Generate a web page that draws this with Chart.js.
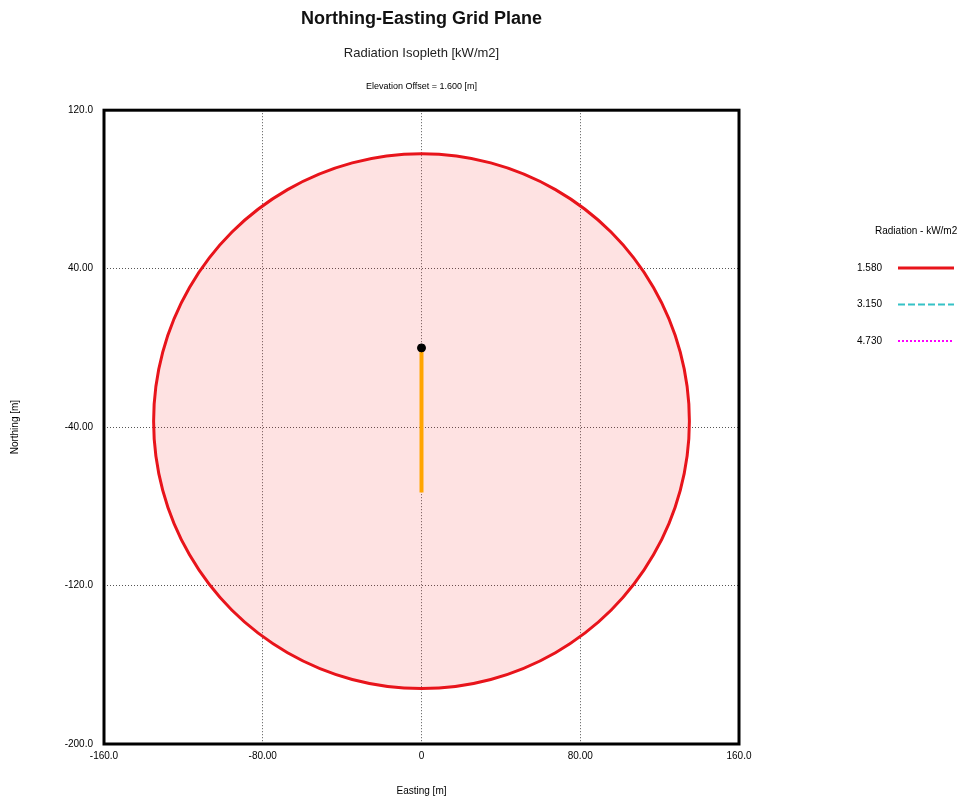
<!DOCTYPE html>
<html>
<head>
<meta charset="utf-8">
<title>Northing-Easting Grid Plane</title>
<script src="https://cdn.jsdelivr.net/npm/chart.js@4.4.1/dist/chart.umd.min.js"></script>
<style>
  html, body { margin: 0; padding: 0; background: #fff; }
  #gridChart { display: block; }
</style>
</head>
<body>
<canvas id="gridChart" width="969" height="803"></canvas>
<script>
// 1.580 kW/m2 isopleth (Easting / Northing in m), closed loop
const isoEast = [135, 130.4, 116.9, 95.5, 67.5, 34.9, 0, -34.9, -67.5, -95.5, -116.9, -130.4,
    -135, -130.4, -116.9, -95.5, -67.5, -34.9, 0, 34.9, 67.5, 95.5, 116.9, 130.4];
const isoNorth = [-37, -2.1, 30.5, 58.5, 79.9, 93.4, 98, 93.4, 79.9, 58.5, 30.5, -2.1,
    -37, -71.9, -104.5, -132.5, -153.9, -167.4, -172, -167.4, -153.9, -132.5, -104.5, -71.9];

// Release point (black dot) and source line (orange)
const sourceEast = [0, 0];
const sourceNorth = [0, -73];

// Axis ticks
const xTickValues = [-160, -80, 0, 80, 160];
const xTickLabels = ['-160.0', '-80.00', '0', '80.00', '160.0'];
const yTickValues = [-200, -120, -40, 40, 120];
const yTickLabels = ['-200.0', '-120.0', '-40.00', '40.00', '120.0'];

// Legend / notes
const legendTitle = 'Radiation - kW/m2';
const isoLevels = ['1.580', '3.150', '4.730'];
const elevationNote = 'Elevation Offset = 1.600 [m]';

Chart.defaults.font.family = "'Liberation Sans', Arial, sans-serif";
Chart.defaults.color = '#000';

const toPoints = (xs, ys) => xs.map((x, i) => ({ x, y: ys[i] }));

// Let the isopleth line close on itself with smooth curves (like a radar line)
const closeLoop = {
    id: 'closeLoop',
    afterDatasetUpdate(chart, args) {
        const ds = chart.data.datasets[args.index];
        const line = args.meta.dataset;
        if (!ds.closedLoop || !line) return;
        line._loop = true;
        line._fullLoop = true;
        line._pointsUpdated = false;
        delete line._segments;
        delete line._path;
    }
};

// Frame, elevation note and isopleth legend
const gridFrame = {
    id: 'gridFrame',
    afterDatasetsDraw(chart) {
        const { ctx, chartArea: a } = chart;
        ctx.save();
        ctx.strokeStyle = '#000';
        ctx.lineWidth = 3;
        ctx.strokeRect(a.left, a.top, a.right - a.left, a.bottom - a.top);
        ctx.restore();
    },
    afterDraw(chart) {
        const { ctx, chartArea: a } = chart;
        ctx.save();
        ctx.fillStyle = '#000';
        ctx.textBaseline = 'middle';

        ctx.font = "9px 'Liberation Sans', Arial, sans-serif";
        ctx.textAlign = 'center';
        ctx.fillText(elevationNote, (a.left + a.right) / 2, 87);

        const lx = a.right + 118;
        ctx.font = "10px 'Liberation Sans', Arial, sans-serif";
        ctx.textAlign = 'left';
        ctx.fillText(legendTitle, lx + 18, 231);

        chart.data.datasets.filter(ds => ds.isopleth).forEach((ds, i) => {
            const y = 268 + i * 36.5;
            ctx.fillStyle = '#000';
            ctx.fillText(ds.label, lx, y);
            ctx.strokeStyle = ds.borderColor;
            ctx.lineWidth = ds.borderWidth;
            ctx.setLineDash(ds.borderDash || []);
            ctx.beginPath();
            ctx.moveTo(lx + 41, y);
            ctx.lineTo(lx + 97, y);
            ctx.stroke();
        });
        ctx.restore();
    }
};

const gridStyle = { color: '#555', lineWidth: 1, drawTicks: false };

new Chart(document.querySelector('#gridChart'), {
    type: 'scatter',
    data: {
        datasets: [
            {
                label: 'release point',
                data: [{ x: sourceEast[0], y: sourceNorth[0] }],
                pointRadius: 4,
                pointBackgroundColor: '#000',
                pointBorderColor: '#000',
                showLine: false
            },
            {
                label: 'source',
                data: toPoints(sourceEast, sourceNorth),
                showLine: true,
                borderColor: '#ffa500',
                borderWidth: 4,
                pointRadius: 0
            },
            {
                label: isoLevels[0],
                isopleth: true,
                closedLoop: true,
                data: toPoints(isoEast, isoNorth),
                showLine: true,
                borderColor: '#e8141b',
                borderWidth: 3,
                backgroundColor: 'rgba(245, 30, 30, 0.13)',
                fill: 'shape',
                tension: 0.34,
                pointRadius: 0
            },
            {
                label: isoLevels[1],
                isopleth: true,
                data: [],
                showLine: true,
                borderColor: '#35c2c6',
                borderWidth: 2,
                borderDash: [7, 3],
                pointRadius: 0
            },
            {
                label: isoLevels[2],
                isopleth: true,
                data: [],
                showLine: true,
                borderColor: '#ff00ff',
                borderWidth: 2,
                borderDash: [2, 2],
                pointRadius: 0
            }
        ]
    },
    options: {
        responsive: false,
        animation: false,
        layout: { padding: { top: 0, right: 230, bottom: 0, left: 0 } },
        plugins: {
            legend: { display: false },
            tooltip: { enabled: false },
            title: {
                display: true,
                text: 'Northing-Easting Grid Plane',
                font: { size: 18, weight: 'bold' },
                color: '#111',
                fullSize: false,
                padding: { top: 8, bottom: 13 }
            },
            subtitle: {
                display: true,
                text: 'Radiation Isopleth [kW/m2]',
                font: { size: 13 },
                color: '#222',
                fullSize: false,
                padding: { top: 3, bottom: 49 }
            }
        },
        scales: {
            x: {
                type: 'linear',
                min: -160,
                max: 160,
                afterBuildTicks: scale => { scale.ticks = xTickValues.map(value => ({ value })); },
                afterFit: scale => { scale.height = 59; },
                ticks: {
                    callback: (value, i) => xTickLabels[i],
                    font: { size: 10 },
                    padding: 6,
                    maxRotation: 0,
                    autoSkip: false
                },
                grid: gridStyle,
                border: { display: false, dash: [1, 2] },
                title: {
                    display: true,
                    text: 'Easting [m]',
                    font: { size: 10 },
                    padding: { top: 0, bottom: 6 }
                }
            },
            y: {
                type: 'linear',
                min: -200,
                max: 120,
                afterBuildTicks: scale => { scale.ticks = yTickValues.map(value => ({ value })); },
                afterFit: scale => { scale.width = 104; },
                ticks: {
                    callback: (value, i) => yTickLabels[i],
                    font: { size: 10 },
                    padding: 11,
                    autoSkip: false
                },
                grid: gridStyle,
                border: { display: false, dash: [1, 2] },
                title: {
                    display: true,
                    text: 'Northing [m]',
                    font: { size: 10 },
                    padding: { top: 9, bottom: 0 }
                }
            }
        }
    },
    plugins: [closeLoop, gridFrame]
});
</script>
</body>
</html>
